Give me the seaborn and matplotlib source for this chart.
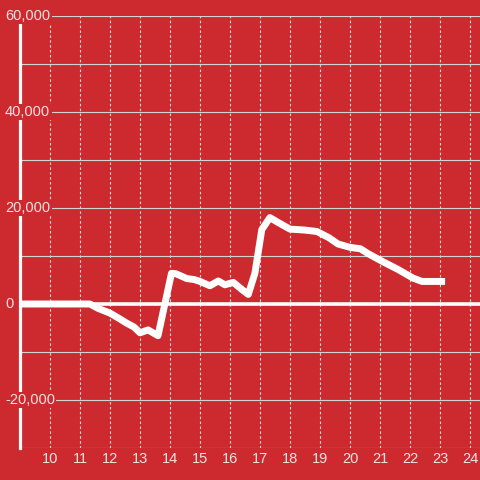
import matplotlib
matplotlib.use("Agg")
import matplotlib.pyplot as plt
import matplotlib.transforms as mtransforms
import seaborn as sns
import pandas as pd

# ---- data ----
hours = [9.0, 11.33, 11.6, 12.0, 12.3, 12.56, 12.8, 13.0, 13.27, 13.6, 14.05,
         14.2, 14.56, 14.8, 15.0, 15.33, 15.61, 15.83, 16.11, 16.4, 16.61,
         16.83, 17.06, 17.33, 17.6, 18.0, 18.5, 18.9, 19.3, 19.6, 20.0, 20.35,
         20.6, 21.1, 21.6, 22.1, 22.4, 23.17]
values = [0, 0, -900, -1900, -3000, -4000, -4800, -6000, -5400, -6600, 6400,
          6300, 5300, 5100, 4700, 3800, 4800, 4000, 4500, 3000, 2000,
          6400, 15500, 18000, 17000, 15600, 15400, 15100, 13800, 12500, 11800, 11500,
          10500, 8800, 7200, 5400, 4700, 4700]
y_grid = [-30000, -20000, -10000, 0, 10000, 20000, 30000, 40000, 50000, 60000]
y_label_vals = [60000, 40000, 20000, 0, -20000]
y_label_txt = ["60,000", "40,000", "20,000", "0", "-20,000"]
x_ticks = list(range(10, 25))
x_labels = [str(v) for v in x_ticks]

RED = "#cd2a2f"
TXT = "#f4e2e2"

sns.set_style("white")
plt.rcParams['font.family'] = ['Liberation Sans', 'DejaVu Sans']

fig = plt.figure(figsize=(4.8, 4.8), dpi=100, facecolor=RED)
ax = fig.add_axes([20/480, 32/480, 460/480, 432/480])
ax.set_facecolor(RED)
ax.set_xlim(9, 9 + 460/30)
ax.set_ylim(-30000, 60000)

ax.set_yticks(y_grid)
ax.set_yticklabels([])
ax.set_xticks(x_ticks)
ax.set_xticklabels(x_labels)
ax.yaxis.grid(True, color="#d3d3d3", lw=0.8, ls="-", zorder=1)
ax.xaxis.grid(True, color="#eed8d8", lw=0.8, ls=(0, (2.2, 2.2)), zorder=1)
ax.set_axisbelow(True)
ax.tick_params(axis="both", length=0)
ax.tick_params(axis="x", labelcolor=TXT, labelsize=10.5, pad=3)

for s in ["top", "right", "bottom"]:
    ax.spines[s].set_visible(False)
ax.spines["left"].set_color("white")
ax.spines["left"].set_linewidth(2.3)

ax.axhline(0, color="white", lw=2.6, zorder=2)

df = pd.DataFrame({"hour": hours, "value": values})
sns.lineplot(data=df, x="hour", y="value", ax=ax, color="white", lw=5,
             zorder=4, sort=False)
for ln in ax.lines[-1:]:
    ln.set_solid_capstyle("butt")
    ln.set_solid_joinstyle("round")
ax.set_xlabel("")
ax.set_ylabel("")

tr = mtransforms.blended_transform_factory(fig.transFigure, ax.transData)
for v, t in zip(y_label_vals, y_label_txt):
    ax.text(5/480, v, t, transform=tr, ha="left", va="center", color=TXT,
            fontsize=10.5, zorder=10, clip_on=False,
            bbox=dict(facecolor=RED, edgecolor="none", pad=1.0))

fig.savefig("out.png", dpi=100, facecolor=RED)
